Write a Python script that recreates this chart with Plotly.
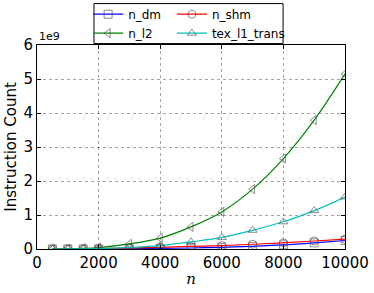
import plotly.graph_objects as go

# ---- data ----
n_values = [500, 1000, 1500, 2000, 3000, 4000, 5000, 6000, 7000, 8000, 9000, 10000]
n_dm = [0.0002e9, 0.001e9, 0.002e9, 0.004e9, 0.008e9, 0.017e9, 0.03e9, 0.05e9, 0.08e9, 0.12e9, 0.18e9, 0.25e9]
n_shm = [0.002e9, 0.005e9, 0.01e9, 0.015e9, 0.03e9, 0.05e9, 0.075e9, 0.1e9, 0.14e9, 0.18e9, 0.235e9, 0.29e9]
n_l2 = [0.001e9, 0.006e9, 0.018e9, 0.043e9, 0.15e9, 0.32e9, 0.65e9, 1.09e9, 1.76e9, 2.66e9, 3.79e9, 5.15e9]
tex_l1_trans = [0.0003e9, 0.002e9, 0.005e9, 0.012e9, 0.045e9, 0.1e9, 0.21e9, 0.34e9, 0.55e9, 0.80e9, 1.13e9, 1.53e9]

x_ticks = [0, 2000, 4000, 6000, 8000, 10000]
x_tick_labels = ["0", "2000", "4000", "6000", "8000", "10000"]
y_ticks = [0, 1e9, 2e9, 3e9, 4e9, 5e9, 6e9]
y_tick_labels = ["0", "1", "2", "3", "4", "5", "6"]

FONT = "DejaVu Sans"
MARK = "rgba(80,80,80,0.65)"

series = [
    ("n_dm", n_dm, "#0000ff", "square-open", "legend"),
    ("n_shm", n_shm, "#ff0000", "circle-open", "legend2"),
    ("n_l2", n_l2, "#008000", "triangle-left-open", "legend"),
    ("tex_l1_trans", tex_l1_trans, "#00bfbf", "triangle-up-open", "legend2"),
]

fig = go.Figure()
for name, vals, col, sym, leg in series:
    fig.add_trace(go.Scatter(
        x=n_values, y=vals, name=name, mode="lines+markers",
        line=dict(color=col, width=1.2, shape="spline"),
        marker=dict(symbol=sym, size=8, color=MARK, line=dict(width=1)),
        legend=leg,
    ))

axis_common = dict(
    showline=True, linecolor="black", linewidth=1, mirror="ticks",
    ticks="inside", ticklen=4, tickcolor="black",
    showgrid=True, gridcolor="rgba(0,0,0,0.35)", griddash="dot", gridwidth=1,
    zeroline=False, tickfont=dict(family=FONT, size=15, color="black"),
    automargin=False,
)

fig.update_xaxes(range=[0, 10000], tickvals=x_ticks, ticktext=x_tick_labels,
                 title=dict(text="<i>n</i>", font=dict(family="DejaVu Serif", size=15, color="black"), standoff=2),
                 **axis_common)
fig.update_yaxes(range=[0, 6e9], tickvals=y_ticks, ticktext=y_tick_labels,
                 title=dict(text="Instruction Count", font=dict(family=FONT, size=15, color="black"), standoff=3),
                 **axis_common)

leg_common = dict(bgcolor="rgba(0,0,0,0)", borderwidth=0, yanchor="top", xanchor="left",
                  font=dict(family=FONT, size=12, color="black"), tracegroupgap=0)
fig.update_layout(
    width=374, height=293,
    margin=dict(l=37, r=29, t=45, b=44, autoexpand=False),
    paper_bgcolor="white", plot_bgcolor="white",
    legend=dict(x=0.166, y=1.222, **leg_common),
    legend2=dict(x=0.438, y=1.222, **leg_common),
    showlegend=True,
    shapes=[dict(type="rect", xref="paper", yref="paper", x0=0.185, x1=0.799, y0=1.007, y1=1.203,
                 line=dict(color="black", width=1), fillcolor="rgba(0,0,0,0)", layer="above")],
    annotations=[dict(text="1e9", xref="paper", yref="paper", x=0, y=1.0, xanchor="left", yanchor="bottom",
                      showarrow=False, font=dict(family=FONT, size=11, color="black"))],
)

fig.write_html("out.html", config={"displayModeBar": False},
               post_script="document.body.style.margin='0';document.body.style.overflow='hidden';")
